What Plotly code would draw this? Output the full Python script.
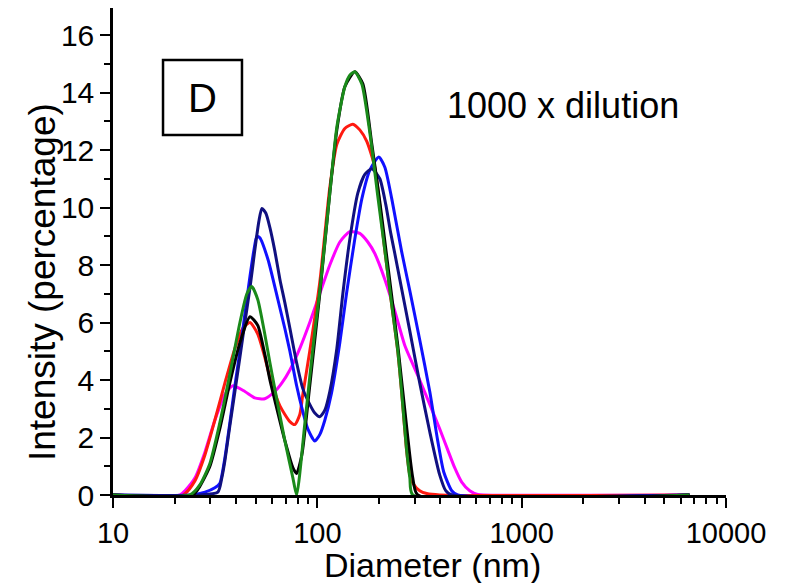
import plotly.graph_objects as go

# ---- data (diameter in nm, intensity in %) ----
green_x = [10, 23.8, 26.6, 29.8, 33.3, 37.3, 41.8, 45.2, 47.8, 51.1, 55.3, 58.6, 61.9, 69.3, 75.9, 79.2,
           86.9, 91.8, 97.2, 102.8, 108.8, 115.1, 124.6, 136.3, 144.2, 152.5, 165.1, 180.7, 197.6, 214.0,
           231.4, 247.6, 258.5, 273.1, 283.6, 293.1, 6630]
green_y = [0, 0, 0.35, 1.1, 2.5, 4.2, 6.0, 7.0, 7.25, 6.8, 5.6, 4.6, 3.7, 1.9, 0.6, 0,
           2.5, 4.1, 5.7, 7.1, 8.8, 10.5, 12.8, 14.2, 14.6, 14.72, 14.3, 12.6, 10.4, 8.5,
           6.6, 5.0, 3.6, 1.6, 0.6, 0, 0]

black_x = [10, 24.6, 26.6, 29.8, 33.3, 37.3, 41.8, 46.8, 51.1, 55.3, 58.6, 61.9, 69.3, 75.9, 79.2, 84.0,
           91.8, 102.8, 115.1, 124.6, 136.3, 152.5, 167.0, 184.8, 202.2, 221.2, 247.6, 277.1, 293.1, 310, 6630]
black_y = [0, 0, 0.3, 1.0, 2.3, 3.9, 5.3, 6.2, 5.9, 4.9, 4.0, 3.3, 1.9, 0.95, 0.75, 1.4,
           3.8, 7.0, 10.5, 12.7, 14.2, 14.72, 14.3, 12.2, 10.2, 8.0, 5.2, 2.0, 0.6, 0, 0]

red_x = [10, 22.0, 25.2, 28.2, 31.5, 35.3, 39.5, 43.2, 46.8, 51.1, 55.3, 58.6, 65.6, 73.4, 77.6, 82.1,
         84.9, 91.8, 102.8, 115.1, 124.6, 136.3, 149.2, 161.4, 174.6, 191.1, 214.0, 231.4, 247.6, 258.5,
         273.1, 283.6, 294, 317, 343, 397, 6630]
red_y = [0, 0, 0.5, 1.4, 2.6, 3.9, 5.1, 5.8, 6.0, 5.6, 4.8, 4.1, 3.1, 2.55, 2.45, 2.8,
         3.5, 5.0, 7.4, 10.7, 12.2, 12.75, 12.9, 12.7, 12.3, 11.4, 8.5, 6.6, 5.0, 3.6,
         1.6, 0.7, 0.4, 0.15, 0.05, 0, 0]

navy_x = [10, 26.6, 32.6, 34.1, 35.3, 37.3, 39.5, 41.8, 44.2, 46.8, 49.4, 51.7, 53.5, 56.0, 58.6, 61.9,
          65.6, 69.3, 73.4, 79.2, 84.9, 91.8, 97.2, 102.8, 108.8, 115.1, 124.6, 133.3, 144.2, 157.8,
          170.8, 184.8, 202.2, 216.3, 228.8, 239.4, 253.3, 283.6, 317, 355, 397, 425, 455, 6630]
navy_y = [0, 0, 0.1, 0.6, 1.2, 2.4, 3.6, 4.8, 6.0, 7.2, 8.5, 9.5, 9.97, 9.8, 9.3, 8.5,
          7.5, 6.7, 5.8, 4.6, 3.7, 3.15, 2.85, 2.72, 2.95, 3.6, 5.1, 7.0, 8.9, 10.5,
          11.15, 11.35, 11.0, 10.1, 9.1, 8.4, 7.5, 5.7, 3.9, 2.2, 0.7, 0.15, 0, 0]

blue_x = [10, 23.8, 28.2, 31.5, 33.3, 35.3, 37.3, 39.5, 41.8, 44.2, 46.8, 48.9, 50.6, 52.3, 57.3, 64.1,
          69.3, 73.4, 79.2, 84.9, 89.8, 97.2, 102.8, 108.8, 117.3, 128.9, 138.9, 152.5, 165.1, 180.7,
          199.8, 214.0, 231.4, 258.0, 283.6, 317, 355, 388, 415.5, 454.8, 486.5, 6630]
blue_y = [0, 0, 0.1, 0.25, 0.4, 1.3, 2.5, 3.8, 5.0, 6.3, 7.6, 8.5, 9.0, 8.95, 8.2, 6.8,
          5.8, 5.0, 3.8, 2.9, 2.3, 1.88, 2.1, 2.6, 3.54, 5.3, 7.0, 8.9, 10.3, 11.3,
          11.76, 11.4, 10.3, 8.5, 7.1, 5.4, 3.6, 1.9, 0.8, 0.15, 0, 0]

magenta_x = [10, 21.3, 22.5, 25.2, 28.2, 31.5, 35.3, 38.6, 44.2, 49.4, 55.3, 61.9, 67.1, 73.4, 82.1, 91.8,
             102.8, 115.1, 128.9, 144.2, 161.4, 176.6, 191.1, 214.0, 239.4, 268.0, 293.1, 317, 355, 397,
             434.7, 470, 508.8, 557, 609.4, 650, 6630]
magenta_y = [0, 0, 0.15, 0.6, 1.5, 2.6, 3.5, 3.8, 3.6, 3.38, 3.35, 3.6, 3.9, 4.35, 5.1, 6.0,
             7.0, 8.0, 8.8, 9.16, 9.1, 8.8, 8.4, 7.5, 6.4, 5.2, 4.55, 4.0, 3.15, 2.3,
             1.57, 0.95, 0.45, 0.15, 0.02, 0, 0]

x_tickvals = [10, 100, 1000, 10000]
x_ticktext = ["10", "100", "1000", "10000"]
y_tickvals = [0, 2, 4, 6, 8, 10, 12, 14, 16]

series = [
    (magenta_x, magenta_y, "#ff00ff"),
    (red_x, red_y, "#ff1a10"),
    (blue_x, blue_y, "#1010ff"),
    (navy_x, navy_y, "#101080"),
    (black_x, black_y, "#000000"),
    (green_x, green_y, "#1a8a1a"),
]

FONT = "Arial, 'Liberation Sans', sans-serif"

fig = go.Figure()
for xs, ys, col in series:
    fig.add_trace(go.Scatter(x=xs, y=ys, mode="lines",
                             line=dict(color=col, width=3, shape="spline", smoothing=0.6),
                             showlegend=False, hoverinfo="skip"))

# page body has an 8px margin, so the figure is shifted by 8px; compensate
fig.update_layout(
    width=781, height=575,
    margin=dict(l=105, r=63, t=0, b=88),
    paper_bgcolor="white", plot_bgcolor="white",
    font=dict(family=FONT, color="black", size=30),
)

fig.update_xaxes(
    type="log", range=[1, 4],
    tickvals=x_tickvals, ticktext=x_ticktext,
    showline=True, linecolor="black", linewidth=2.5,
    ticks="outside", ticklen=10, tickwidth=2, tickcolor="black",
    minor=dict(ticks="outside", ticklen=6, tickwidth=2, tickcolor="black",
               tickvals=[20, 30, 40, 50, 60, 70, 80, 90, 200, 300, 400, 500, 600, 700, 800, 900,
                         2000, 3000, 4000, 5000, 6000, 7000, 8000, 9000]),
    showgrid=False, zeroline=False,
    tickfont=dict(size=29),
)

fig.update_yaxes(
    range=[0, 16.94],
    tickvals=y_tickvals,
    showline=True, linecolor="black", linewidth=2.5,
    ticks="outside", ticklen=10, tickwidth=2, tickcolor="black",
    minor=dict(ticks="outside", ticklen=6, tickwidth=2, tickcolor="black", dtick=1),
    showgrid=False, zeroline=False,
    tickfont=dict(size=30),
)

# axis titles as annotations for exact placement
fig.add_annotation(xref="paper", yref="paper", x=0.522, y=-0.143, text="Diameter (nm)",
                   showarrow=False, font=dict(size=34, color="black"),
                   xanchor="center", yanchor="middle")
fig.add_annotation(xref="paper", yref="paper", x=-0.116, y=0.437, text="Intensity (percentage)",
                   showarrow=False, textangle=-90, font=dict(size=37, color="black"),
                   xanchor="center", yanchor="middle")

fig.add_shape(type="rect", xref="paper", yref="paper",
              x0=0.0816, x1=0.2104, y0=0.739, y1=0.893,
              line=dict(color="black", width=2.5), fillcolor="white")
fig.add_annotation(xref="paper", yref="paper", x=0.146, y=0.816, text="D",
                   showarrow=False, font=dict(size=40, color="black"),
                   xanchor="center", yanchor="middle")
fig.add_annotation(xref="paper", yref="paper", x=0.5416, y=0.80, text="1000 x dilution",
                   showarrow=False, font=dict(size=36, color="black"),
                   xanchor="left", yanchor="middle")

fig.write_html("out.html")
